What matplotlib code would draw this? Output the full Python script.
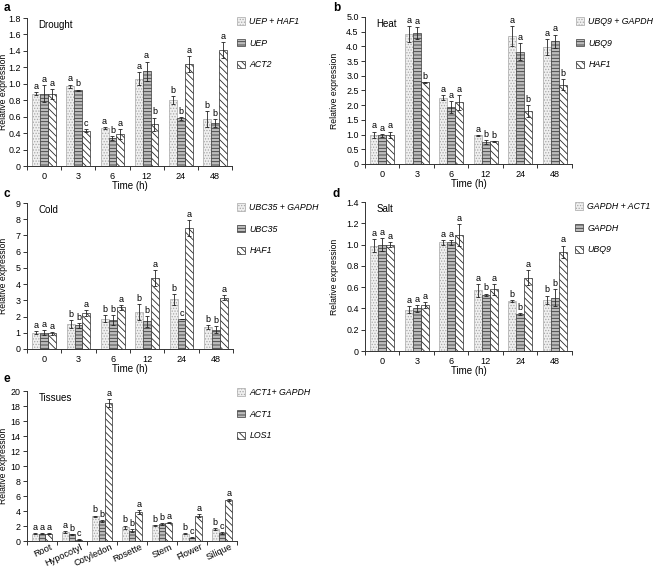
import numpy as np
import matplotlib
matplotlib.use('Agg')
import matplotlib.pyplot as plt
import matplotlib.patches as mpatches
import matplotlib.transforms as mtransforms

#fonte parecida com Arial
plt.rcParams['font.family'] = ['Liberation Sans', 'DejaVu Sans']
plt.rcParams['hatch.linewidth'] = 0.6

#%%
#dados
tempos = ['0', '3', '6', '12', '24', '48']
tecidos = ['Root', 'Hypocotyl', 'Cotyledon', 'Rosette', 'Stem', 'Flower', 'Silique']

#a - seca
seca_nomes = ['UEP + HAF1', 'UEP', 'ACT2']
seca_combo = [0.88, 0.97, 0.46, 1.06, 0.80, 0.57]
seca_uep = [0.88, 0.92, 0.34, 1.15, 0.58, 0.52]
seca_act2 = [0.88, 0.43, 0.39, 0.51, 1.24, 1.41]
seca_err = [[0.02, 0.02, 0.01, 0.08, 0.05, 0.10],
            [0.10, 0.01, 0.02, 0.12, 0.02, 0.05],
            [0.06, 0.02, 0.06, 0.08, 0.10, 0.10]]
seca_letras = [['a', 'a', 'a', 'a', 'b', 'b'],
               ['a', 'b', 'b', 'a', 'b', 'b'],
               ['a', 'c', 'a', 'b', 'a', 'a']]

#b - calor
calor_nomes = ['UBQ9 + GAPDH', 'UBQ9', 'HAF1']
calor_combo = [1.00, 4.42, 2.25, 0.97, 4.35, 3.97]
calor_ubq9 = [0.97, 4.45, 1.93, 0.75, 3.82, 4.18]
calor_haf1 = [1.00, 2.78, 2.10, 0.77, 1.80, 2.70]
calor_err = [[0.10, 0.28, 0.08, 0.02, 0.33, 0.28],
             [0.05, 0.20, 0.20, 0.07, 0.30, 0.22],
             [0.10, 0.01, 0.25, 0.02, 0.20, 0.18]]
calor_letras = [['a', 'a', 'a', 'a', 'a', 'a'],
                ['a', 'a', 'a', 'b', 'a', 'a'],
                ['a', 'b', 'a', 'b', 'b', 'b']]

#c - frio
frio_nomes = ['UBC35 + GAPDH', 'UBC35', 'HAF1']
frio_combo = [1.00, 1.52, 1.87, 2.27, 3.07, 1.35]
frio_ubc35 = [1.00, 1.47, 1.80, 1.70, 1.85, 1.20]
frio_haf1 = [0.97, 2.20, 2.57, 4.37, 7.45, 3.15]
frio_err = [[0.08, 0.25, 0.20, 0.50, 0.33, 0.10],
            [0.15, 0.15, 0.30, 0.35, 0.01, 0.20],
            [0.08, 0.18, 0.15, 0.50, 0.50, 0.15]]
frio_letras = [['a', 'b', 'b', 'b', 'b', 'b'],
               ['a', 'b', 'b', 'b', 'c', 'b'],
               ['a', 'a', 'a', 'a', 'a', 'a']]

#d - sal
sal_nomes = ['GAPDH + ACT1', 'GAPDH', 'UBQ9']
sal_combo = [0.99, 0.39, 1.02, 0.57, 0.47, 0.48]
sal_gapdh = [1.00, 0.40, 1.02, 0.53, 0.35, 0.50]
sal_ubq9 = [1.00, 0.43, 1.09, 0.58, 0.69, 0.93]
sal_err = [[0.06, 0.03, 0.02, 0.06, 0.01, 0.04],
           [0.06, 0.03, 0.02, 0.01, 0.01, 0.08],
           [0.02, 0.03, 0.10, 0.05, 0.07, 0.06]]
sal_letras = [['a', 'a', 'a', 'a', 'b', 'b'],
              ['a', 'a', 'a', 'b', 'b', 'b'],
              ['a', 'a', 'a', 'a', 'a', 'a']]

#e - tecidos
tec_nomes = ['ACT1+ GAPDH', 'ACT1', 'LOS1']
tec_combo = [1.0, 1.2, 3.3, 1.85, 2.1, 1.0, 1.6]
tec_act1 = [1.0, 0.9, 2.7, 1.35, 2.25, 0.45, 1.1]
tec_los1 = [1.0, 0.2, 18.4, 3.9, 2.45, 3.4, 5.5]
tec_err = [[0.05, 0.10, 0.10, 0.20, 0.05, 0.10, 0.10],
           [0.05, 0.05, 0.10, 0.20, 0.15, 0.02, 0.10],
           [0.05, 0.02, 0.50, 0.25, 0.05, 0.15, 0.10]]
tec_letras = [['a', 'a', 'b', 'b', 'b', 'b', 'b'],
              ['a', 'b', 'b', 'b', 'b', 'c', 'c'],
              ['a', 'c', 'a', 'a', 'a', 'a', 'a']]

#%%
#estilos das barras (pontilhado, listrado, diagonal)
estilos = [dict(facecolor='#f0f0f0', edgecolor='#a8a8a8', hatch='......'),
           dict(facecolor='#bcbcbc', edgecolor='#3a3a3a', hatch='-----'),
           dict(facecolor='white', edgecolor='#2a2a2a', hatch='\\\\\\\\\\')]
cor_eixo = '#333333'


def painel(ax, cats, series, erros, letras, ymax, ystep, titulo, fmt, xlab_px):
    x = np.arange(len(cats))
    w = 0.23
    for i in range(3):
        pos = x + (i - 1) * w
        ax.bar(pos, series[i], w, linewidth=0.5, **estilos[i])
        ax.errorbar(pos, series[i], yerr=erros[i], fmt='none', ecolor='#222222',
                    elinewidth=0.6, capsize=1.6, capthick=0.6)
        for p, v, e, l in zip(pos, series[i], erros[i], letras[i]):
            ax.text(p, v + e + ymax * 0.008, l, ha='center', va='bottom', fontsize=6.5)
    ax.set_xlim(-0.5, len(cats) - 0.5)
    ax.set_ylim(0, ymax)
    ticks = np.arange(0, ymax + ystep / 2, ystep)
    ax.set_yticks(ticks)
    ax.set_yticklabels(['0'] + [fmt.format(t) for t in ticks[1:]])
    #ticks do eixo x entre os grupos (estilo excel)
    ax.set_xticks(x)
    ax.set_xticks(np.arange(-0.5, len(cats), 1), minor=True)
    ax.tick_params(axis='x', which='major', length=0, labelsize=6.6, pad=4)
    ax.tick_params(axis='x', which='minor', length=3, width=0.7, color=cor_eixo)
    ax.tick_params(axis='y', length=3, width=0.7, color=cor_eixo, labelsize=6.4, pad=1.5)
    for s in ['top', 'right']:
        ax.spines[s].set_visible(False)
    for s in ['left', 'bottom']:
        ax.spines[s].set_linewidth(0.7)
        ax.spines[s].set_color(cor_eixo)
    ax.set_ylabel('Relative expression', fontsize=6.2)
    trans = mtransforms.blended_transform_factory(fig.transFigure, ax.transAxes)
    ax.yaxis.set_label_coords(xlab_px / 656, 0.5, transform=trans)
    ax.text(0.055, 0.985, titulo, transform=ax.transAxes, fontsize=7, va='top')


def legenda(ax, nomes, xpx, ypx):
    handles = [mpatches.Patch(linewidth=0.5, **estilos[i]) for i in range(3)]
    ax.legend(handles, nomes, loc='upper left', bbox_to_anchor=(xpx / 656, 1 - ypx / 568),
              bbox_transform=fig.transFigure, frameon=False,
              prop=dict(style='italic', size=6.3), handlelength=0.9, handleheight=0.9,
              handletextpad=0.5, labelspacing=1.45, borderpad=0, borderaxespad=0)


#%%
fig = plt.figure(figsize=(6.56, 5.68), dpi=100)

ax_a = fig.add_axes([0.0412, 0.7077, 0.3125, 0.2606])
ax_b = fig.add_axes([0.5564, 0.7113, 0.3155, 0.2588])
ax_c = fig.add_axes([0.0412, 0.3856, 0.3140, 0.2570])
ax_d = fig.add_axes([0.5564, 0.3820, 0.3155, 0.2623])
ax_e = fig.add_axes([0.0412, 0.0475, 0.3200, 0.2640])

painel(ax_a, tempos, [seca_combo, seca_uep, seca_act2], seca_err, seca_letras,
       1.8, 0.2, 'Drought', '{:.1f}', 8)
painel(ax_b, tempos, [calor_combo, calor_ubq9, calor_haf1], calor_err, calor_letras,
       5.0, 0.5, 'Heat', '{:.1f}', 339)
painel(ax_c, tempos, [frio_combo, frio_ubc35, frio_haf1], frio_err, frio_letras,
       9, 1, 'Cold', '{:.0f}', 8)
painel(ax_d, tempos, [sal_combo, sal_gapdh, sal_ubq9], sal_err, sal_letras,
       1.4, 0.2, 'Salt', '{:.1f}', 339)
painel(ax_e, tecidos, [tec_combo, tec_act1, tec_los1], tec_err, tec_letras,
       20, 2, 'Tissues', '{:.0f}', 8)

for ax in [ax_a, ax_b, ax_c, ax_d]:
    ax.set_xticklabels(tempos)
    ax.set_xlabel('Time (h)', fontsize=7, labelpad=0)

#nomes dos tecidos inclinados, um pouco deslocados para a direita
ax_e.set_xticklabels(tecidos, rotation=25, ha='right', rotation_mode='anchor')
ax_e.tick_params(axis='x', which='major', pad=1)
desloc = mtransforms.ScaledTranslation(8 / 100, 0, fig.dpi_scale_trans)
for lab in ax_e.get_xticklabels():
    lab.set_transform(lab.get_transform() + desloc)

legenda(ax_a, seca_nomes, 237, 17)
legenda(ax_b, calor_nomes, 576, 17)
legenda(ax_c, frio_nomes, 237, 203)
legenda(ax_d, sal_nomes, 575, 202)
legenda(ax_e, tec_nomes, 237, 388)

#letras dos paineis
for letra, xp, yp in [('a', 4, 2), ('b', 333, 2), ('c', 4, 188), ('d', 333, 188), ('e', 4, 373)]:
    fig.text(xp / 656, 1 - yp / 568, letra, fontsize=8.5, fontweight='bold', va='top')

fig.savefig('out.png', dpi=100)
